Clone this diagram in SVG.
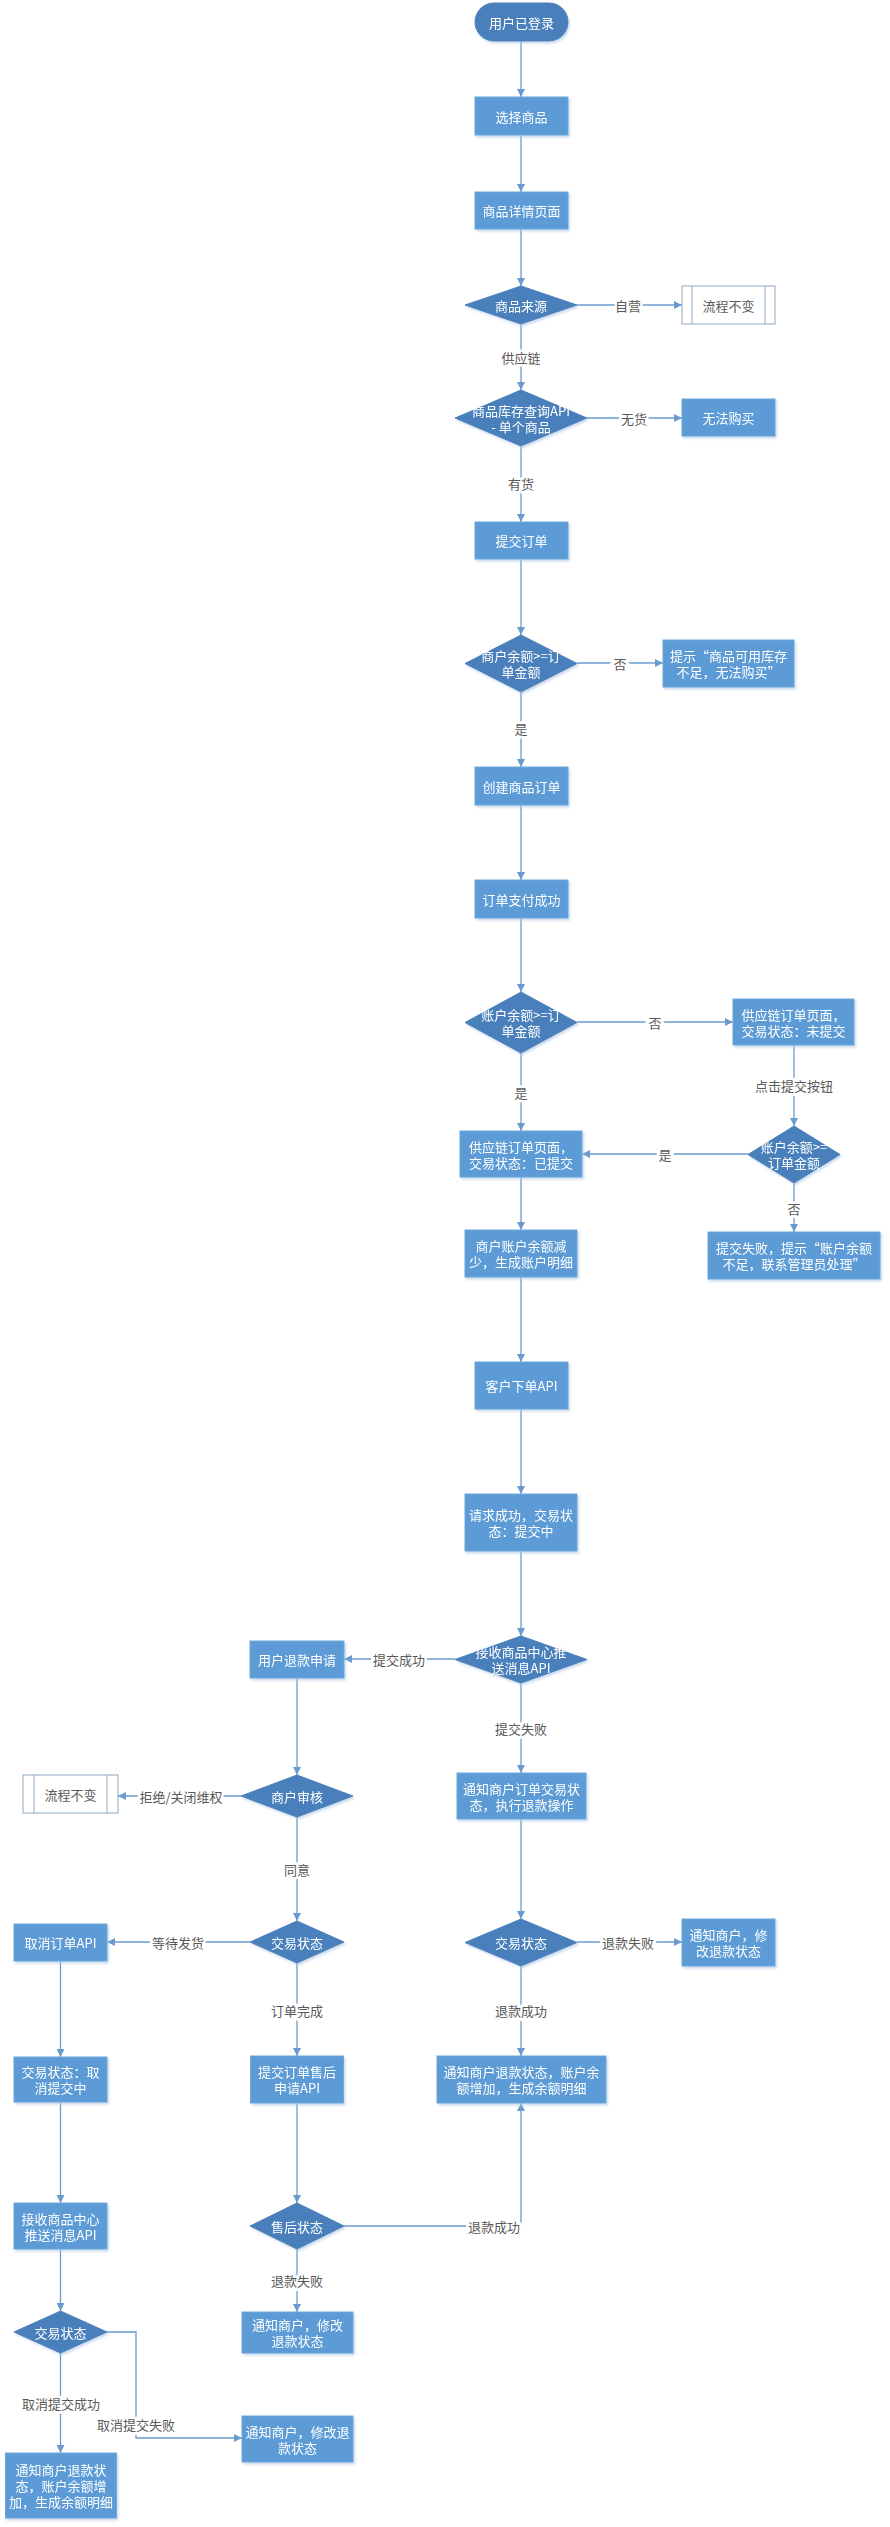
<svg xmlns="http://www.w3.org/2000/svg" width="890" height="2527" viewBox="0 0 890 2527">
<style>
.box{fill:#5b9bd5;stroke:#6fa7dc;stroke-width:1}
.dec{fill:#4a80bb;stroke:#4a80bb;stroke-width:1}
.term{fill:#4a80bb;stroke:#4a80bb}
.pre{fill:#ffffff;stroke:#8fa8c4;stroke-width:1}
.t{font-family:"Noto Sans CJK SC","Noto Sans",sans-serif;font-size:13px;fill:#ffffff;text-anchor:middle;dominant-baseline:central}
.pt{font-family:"Noto Sans CJK SC","Noto Sans",sans-serif;font-size:13px;fill:#595959;text-anchor:middle;dominant-baseline:central}
.lt{font-family:"Noto Sans CJK SC","Noto Sans",sans-serif;font-size:13px;fill:#595959;text-anchor:middle;dominant-baseline:central;stroke:#ffffff;stroke-width:5;paint-order:stroke}
.ln{fill:none;stroke:#6a9bcf;stroke-width:1.3;marker-end:url(#ah)}
.sh{filter:url(#shadow)}
</style>
<defs>
<marker id="ah" viewBox="0 0 10 10" refX="10" refY="5" markerWidth="8" markerHeight="8" markerUnits="userSpaceOnUse" orient="auto"><path d="M0,0 L10,5 L0,10 z" fill="#6a9bcf"/></marker>
<filter id="shadow" x="-10%" y="-10%" width="130%" height="140%"><feDropShadow dx="1.5" dy="2" stdDeviation="1.2" flood-color="#a9c4e4" flood-opacity="0.6"/></filter>
</defs>
<rect width="890" height="2527" fill="#ffffff"/>

<g id="connectors">
<path class="ln" d="M521,41 V97"/>
<path class="ln" d="M521,135 V192"/>
<path class="ln" d="M521,229 V286"/>
<path class="ln" d="M577,305 H682"/>
<path class="ln" d="M521,324 V390"/>
<path class="ln" d="M587,418 H682"/>
<path class="ln" d="M521,446 V522"/>
<path class="ln" d="M521,559 V635"/>
<path class="ln" d="M577,663 H663"/>
<path class="ln" d="M521,692 V767"/>
<path class="ln" d="M521,805 V880"/>
<path class="ln" d="M521,918 V992"/>
<path class="ln" d="M577,1022 H733"/>
<path class="ln" d="M521,1053 V1131"/>
<path class="ln" d="M794,1045 V1126"/>
<path class="ln" d="M748,1154 H582"/>
<path class="ln" d="M794,1183 V1232"/>
<path class="ln" d="M521,1177 V1230"/>
<path class="ln" d="M521,1277 V1362"/>
<path class="ln" d="M521,1409 V1494"/>
<path class="ln" d="M521,1551 V1636"/>
<path class="ln" d="M455,1659 H344"/>
<path class="ln" d="M521,1683 V1773"/>
<path class="ln" d="M297,1678 V1775"/>
<path class="ln" d="M241,1796 H118"/>
<path class="ln" d="M297,1817 V1921"/>
<path class="ln" d="M521,1819 V1919"/>
<path class="ln" d="M577,1942 H682"/>
<path class="ln" d="M521,1966 V2056"/>
<path class="ln" d="M250,1942 H107"/>
<path class="ln" d="M297,1963 V2056"/>
<path class="ln" d="M60.5,1961 V2057"/>
<path class="ln" d="M297,2103 V2203"/>
<path class="ln" d="M344,2226 H521 V2103"/>
<path class="ln" d="M297,2249 V2312"/>
<path class="ln" d="M60.5,2102 V2203"/>
<path class="ln" d="M60.5,2249 V2311"/>
<path class="ln" d="M60.5,2353 V2453"/>
<path class="ln" d="M107,2332 H136 V2438 H242"/>
<text class="lt" x="628" y="305">自营</text>
<text class="lt" x="521" y="357">供应链</text>
<text class="lt" x="634" y="418">无货</text>
<text class="lt" x="521" y="483">有货</text>
<text class="lt" x="620" y="663">否</text>
<text class="lt" x="521" y="728">是</text>
<text class="lt" x="655" y="1022">否</text>
<text class="lt" x="521" y="1092">是</text>
<text class="lt" x="794" y="1085">点击提交按钮</text>
<text class="lt" x="665" y="1154">是</text>
<text class="lt" x="794" y="1208">否</text>
<text class="lt" x="399" y="1659">提交成功</text>
<text class="lt" x="521" y="1728">提交失败</text>
<text class="lt" x="181" y="1796">拒绝/关闭维权</text>
<text class="lt" x="297" y="1869">同意</text>
<text class="lt" x="628" y="1942">退款失败</text>
<text class="lt" x="521" y="2010">退款成功</text>
<text class="lt" x="178" y="1942">等待发货</text>
<text class="lt" x="297" y="2010">订单完成</text>
<text class="lt" x="494" y="2226">退款成功</text>
<text class="lt" x="297" y="2280">退款失败</text>
<text class="lt" x="61" y="2403">取消提交成功</text>
<text class="lt" x="136" y="2424">取消提交失败</text>
</g>

<g id="n_start" class="sh"><rect class="term" x="475" y="3" width="93" height="38" rx="19"/><text class="t" x="521.5" y="22">用户已登录</text></g>
<g id="n_select" class="sh"><rect class="box" x="475" y="97" width="93" height="38"/><text class="t" x="521.5" y="116">选择商品</text></g>
<g id="n_detail" class="sh"><rect class="box" x="475" y="192" width="93" height="37"/><text class="t" x="521.5" y="210.5">商品详情页面</text></g>
<g id="n_source" class="sh"><polygon class="dec" points="521,286 577,305 521,324 465,305"/><text class="t" x="521" y="305">商品来源</text></g>
<g id="n_same1"><rect class="pre" x="682" y="286" width="93" height="38"/><line x1="692" y1="286" x2="692" y2="324" stroke="#8fa8c4"/><line x1="765" y1="286" x2="765" y2="324" stroke="#8fa8c4"/><text class="pt" x="728.5" y="305">流程不变</text></g>
<g id="n_stock" class="sh"><polygon class="dec" points="521,390 587,418 521,446 455,418"/><text class="t" x="521" y="410">商品库存查询API</text><text class="t" x="521" y="426">- 单个商品</text></g>
<g id="n_nobuy" class="sh"><rect class="box" x="682" y="399" width="93" height="37"/><text class="t" x="728.5" y="417.5">无法购买</text></g>
<g id="n_submit" class="sh"><rect class="box" x="475" y="522" width="93" height="37"/><text class="t" x="521.5" y="540.5">提交订单</text></g>
<g id="n_bal1" class="sh"><polygon class="dec" points="521,635 577,663.5 521,692 465,663.5"/><text class="t" x="521" y="655">商户余额&gt;=订</text><text class="t" x="521" y="671">单金额</text></g>
<g id="n_tip1" class="sh"><rect class="box" x="663" y="640" width="131" height="47"/><text class="t" x="728.5" y="655">提示“商品可用库存</text><text class="t" x="728.5" y="671">不足，无法购买”</text></g>
<g id="n_create" class="sh"><rect class="box" x="475" y="767" width="93" height="38"/><text class="t" x="521.5" y="786">创建商品订单</text></g>
<g id="n_paid" class="sh"><rect class="box" x="475" y="880" width="93" height="38"/><text class="t" x="521.5" y="899">订单支付成功</text></g>
<g id="n_bal2" class="sh"><polygon class="dec" points="521,992 577,1022.5 521,1053 465,1022.5"/><text class="t" x="521" y="1014">账户余额&gt;=订</text><text class="t" x="521" y="1030">单金额</text></g>
<g id="n_unsub" class="sh"><rect class="box" x="733" y="999" width="121" height="46"/><text class="t" x="793.5" y="1014">供应链订单页面，</text><text class="t" x="793.5" y="1030">交易状态：未提交</text></g>
<g id="n_subd" class="sh"><rect class="box" x="460" y="1131" width="122" height="46"/><text class="t" x="521" y="1146">供应链订单页面，</text><text class="t" x="521" y="1162">交易状态：已提交</text></g>
<g id="n_bal3" class="sh"><polygon class="dec" points="794,1126 840,1154.5 794,1183 748,1154.5"/><text class="t" x="794" y="1146">账户余额&gt;=</text><text class="t" x="794" y="1162">订单金额</text></g>
<g id="n_fail" class="sh"><rect class="box" x="708" y="1232" width="172" height="47"/><text class="t" x="794" y="1247">提交失败，提示“账户余额</text><text class="t" x="794" y="1263">不足，联系管理员处理”</text></g>
<g id="n_deduct" class="sh"><rect class="box" x="465" y="1230" width="112" height="47"/><text class="t" x="521" y="1245">商户账户余额减</text><text class="t" x="521" y="1261">少，生成账户明细</text></g>
<g id="n_order" class="sh"><rect class="box" x="475" y="1362" width="93" height="47"/><text class="t" x="521.5" y="1385.5">客户下单API</text></g>
<g id="n_req" class="sh"><rect class="box" x="465" y="1494" width="112" height="57"/><text class="t" x="521" y="1514">请求成功，交易状</text><text class="t" x="521" y="1530">态：提交中</text></g>
<g id="n_recv" class="sh"><polygon class="dec" points="521,1636 587,1659.5 521,1683 455,1659.5"/><text class="t" x="521" y="1651">接收商品中心推</text><text class="t" x="521" y="1667">送消息API</text></g>
<g id="n_refund" class="sh"><rect class="box" x="250" y="1641" width="94" height="37"/><text class="t" x="297" y="1659.5">用户退款申请</text></g>
<g id="n_audit" class="sh"><polygon class="dec" points="297,1775 353,1796 297,1817 241,1796"/><text class="t" x="297" y="1796">商户审核</text></g>
<g id="n_same2"><rect class="pre" x="23" y="1775" width="95" height="38"/><line x1="34" y1="1775" x2="34" y2="1813" stroke="#8fa8c4"/><line x1="107" y1="1775" x2="107" y2="1813" stroke="#8fa8c4"/><text class="pt" x="70.5" y="1794">流程不变</text></g>
<g id="n_notify1" class="sh"><rect class="box" x="457" y="1773" width="129" height="46"/><text class="t" x="521.5" y="1788">通知商户订单交易状</text><text class="t" x="521.5" y="1804">态，执行退款操作</text></g>
<g id="n_state_mid" class="sh"><polygon class="dec" points="297,1921 344,1942 297,1963 250,1942"/><text class="t" x="297" y="1942">交易状态</text></g>
<g id="n_cancel" class="sh"><rect class="box" x="14" y="1924" width="93" height="37"/><text class="t" x="60.5" y="1942.5">取消订单API</text></g>
<g id="n_state_r" class="sh"><polygon class="dec" points="521,1919 577,1942.5 521,1966 465,1942.5"/><text class="t" x="521" y="1942.5">交易状态</text></g>
<g id="n_notify2" class="sh"><rect class="box" x="682" y="1919" width="93" height="47"/><text class="t" x="728.5" y="1934.5">通知商户，修</text><text class="t" x="728.5" y="1950.5">改退款状态</text></g>
<g id="n_after" class="sh"><rect class="box" x="250.5" y="2056" width="93" height="47"/><text class="t" x="297" y="2071.5">提交订单售后</text><text class="t" x="297" y="2087.5">申请API</text></g>
<g id="n_notify3" class="sh"><rect class="box" x="437" y="2056" width="169" height="47"/><text class="t" x="521.5" y="2071.5">通知商户退款状态，账户余</text><text class="t" x="521.5" y="2087.5">额增加，生成余额明细</text></g>
<g id="n_canceling" class="sh"><rect class="box" x="14" y="2057" width="93" height="45"/><text class="t" x="60.5" y="2071.5">交易状态：取</text><text class="t" x="60.5" y="2087.5">消提交中</text></g>
<g id="n_afterstate" class="sh"><polygon class="dec" points="297,2203 344,2226 297,2249 250,2226"/><text class="t" x="297" y="2226">售后状态</text></g>
<g id="n_recv2" class="sh"><rect class="box" x="14" y="2203" width="93" height="46"/><text class="t" x="60.5" y="2218">接收商品中心</text><text class="t" x="60.5" y="2234">推送消息API</text></g>
<g id="n_state_l" class="sh"><polygon class="dec" points="60.5,2311 107,2332 60.5,2353 14,2332"/><text class="t" x="60.5" y="2332">交易状态</text></g>
<g id="n_notify4" class="sh"><rect class="box" x="242" y="2312" width="111" height="41"/><text class="t" x="297.5" y="2324.5">通知商户，修改</text><text class="t" x="297.5" y="2340.5">退款状态</text></g>
<g id="n_notify5" class="sh"><rect class="box" x="242" y="2416" width="111" height="46"/><text class="t" x="297.5" y="2431">通知商户，修改退</text><text class="t" x="297.5" y="2447">款状态</text></g>
<g id="n_notify6" class="sh"><rect class="box" x="5.5" y="2453" width="111" height="65"/><text class="t" x="61" y="2469.5">通知商户退款状</text><text class="t" x="61" y="2485.5">态，账户余额增</text><text class="t" x="61" y="2501.5">加，生成余额明细</text></g>
</svg>
